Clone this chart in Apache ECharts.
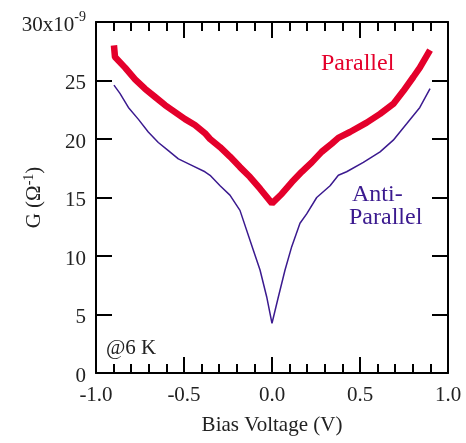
<!DOCTYPE html>
<html>
<head>
<meta charset="utf-8">
<script src="https://cdn.jsdelivr.net/npm/echarts@6/dist/echarts.min.js"></script>
<style>
html, body { margin: 0; padding: 0; background: #fff; }
#main { width: 466px; height: 443px; }
</style>
</head>
<body>
<div id="main"></div>
<script>
// bias voltage (V) and conductance (x1e-9 S)
var parallelV = [-0.898, -0.892, -0.835, -0.778, -0.722, -0.665, -0.608, -0.551, -0.494, -0.438, -0.381, -0.352, -0.295, -0.239, -0.182, -0.125, -0.068, 0, 0.055, 0.112, 0.169, 0.226, 0.282, 0.339, 0.377, 0.443, 0.538, 0.614, 0.689, 0.746, 0.803, 0.84, 0.898];
var parallelG = [28.0, 27.0, 26.1, 25.1, 24.3, 23.6, 22.9, 22.3, 21.7, 21.2, 20.5, 20.0, 19.3, 18.5, 17.6, 16.75, 15.75, 14.5, 15.3, 16.3, 17.2, 18.0, 18.9, 19.6, 20.1, 20.6, 21.4, 22.15, 23.0, 24.1, 25.3, 26.1, 27.6];

var antiV = [-0.898, -0.864, -0.816, -0.76, -0.703, -0.646, -0.589, -0.532, -0.456, -0.381, -0.352, -0.295, -0.239, -0.182, -0.106, -0.068, -0.03, 0, 0.036, 0.074, 0.112, 0.159, 0.197, 0.254, 0.33, 0.377, 0.424, 0.519, 0.614, 0.689, 0.765, 0.84, 0.898];
var antiG = [24.6, 23.9, 22.7, 21.7, 20.6, 19.7, 19.0, 18.3, 17.75, 17.2, 16.9, 16.0, 15.2, 13.9, 10.5, 8.8, 6.5, 4.25, 6.5, 8.8, 10.8, 12.8, 13.6, 15.0, 16.0, 16.9, 17.2, 18.0, 18.9, 19.9, 21.3, 22.7, 24.3];

var xTicks = [-1.0, -0.5, 0.0, 0.5, 1.0];
var yTicks = [0, 5, 10, 15, 20, 25, 30];

function pairs(xs, ys) {
    var out = [];
    for (var i = 0; i < xs.length; i++) out.push([xs[i], ys[i]]);
    return out;
}

var font = '"Liberation Serif", "DejaVu Serif", serif';
var ink = '#222';

// one side of the box frame; fresh objects each call so nothing is shared
function frameAxis(pos, isX, extra) {
    var ax = {
        type: 'value', position: pos,
        min: isX ? -1 : 0, max: isX ? 1 : 30, interval: isX ? 0.5 : 5,
        axisLine: { show: true, onZero: false, lineStyle: { color: '#000', width: 2 } },
        axisTick: { show: true, inside: true, length: 16, lineStyle: { color: '#000', width: 2 } },
        splitLine: { show: false },
        axisLabel: { show: false }
    };
    if (isX) {
        ax.minorTick = { show: true, splitNumber: 5, length: 9, lineStyle: { color: '#000', width: 2 } };
    }
    return Object.assign(ax, extra || {});
}

var chart = echarts.init(document.getElementById('main'));

var option = {
    animation: false,
    backgroundColor: '#fff',
    grid: { left: 96, right: 18, top: 22, bottom: 70, outerBoundsMode: 'none' },
    xAxis: [
        frameAxis('bottom', true, {
            name: 'Bias Voltage (V)', nameLocation: 'middle', nameGap: 42, nameMoveOverlap: false,
            nameTextStyle: { fontFamily: font, fontSize: 21, color: ink },
            axisLabel: {
                show: true, fontFamily: font, fontSize: 21, color: ink, margin: 12,
                formatter: function (v) { return xTicks.indexOf(v) >= 0 ? v.toFixed(1) : ''; }
            }
        }),
        frameAxis('top', true)
    ],
    yAxis: [
        frameAxis('left', false, {
            name: '{n|G (Ω}{s|-1}{n|)}', nameLocation: 'middle', nameGap: 50, nameRotate: 90,
            nameMoveOverlap: false,
            nameTextStyle: {
                rich: {
                    n: { fontFamily: font, fontSize: 21, color: ink },
                    s: { fontFamily: font, fontSize: 14, color: ink, padding: [0, 0, 10, 0] }
                }
            },
            axisLabel: {
                show: true, fontFamily: font, fontSize: 21, color: ink, margin: 10, align: 'right',
                formatter: function (v) {
                    if (yTicks.indexOf(v) < 0) return '';
                    return v === 30 ? '{n|30x10}{s|-9}' : '{n|' + v + '}';
                },
                rich: {
                    n: { fontFamily: font, fontSize: 21, color: ink, padding: [6, 0, 0, 0] },
                    s: { fontFamily: font, fontSize: 14, color: ink, padding: [0, 0, 10, 0] }
                }
            }
        }),
        frameAxis('right', false)
    ],
    series: [
        {
            name: 'Anti-Parallel', type: 'line', data: pairs(antiV, antiG),
            showSymbol: false,
            lineStyle: { color: '#3b1a8f', width: 1.5 }, itemStyle: { color: '#3b1a8f' }
        },
        {
            name: 'Parallel', type: 'line', data: pairs(parallelV, parallelG),
            showSymbol: false,
            lineStyle: { color: '#e4002b', width: 6.5 }, itemStyle: { color: '#e4002b' }
        }
    ],
    graphic: [
        { type: 'text', left: 321, top: 52, style: { text: 'Parallel', font: '24px ' + font, fill: '#e4002b' } },
        { type: 'text', left: 352, top: 183, style: { text: 'Anti-', font: '24px ' + font, fill: '#3b1a8f' } },
        { type: 'text', left: 349, top: 206, style: { text: 'Parallel', font: '24px ' + font, fill: '#3b1a8f' } },
        { type: 'text', left: 106, top: 338, style: { text: '@6 K', font: '21px ' + font, fill: ink } }
    ]
};

chart.setOption(option);
</script>
</body>
</html>
